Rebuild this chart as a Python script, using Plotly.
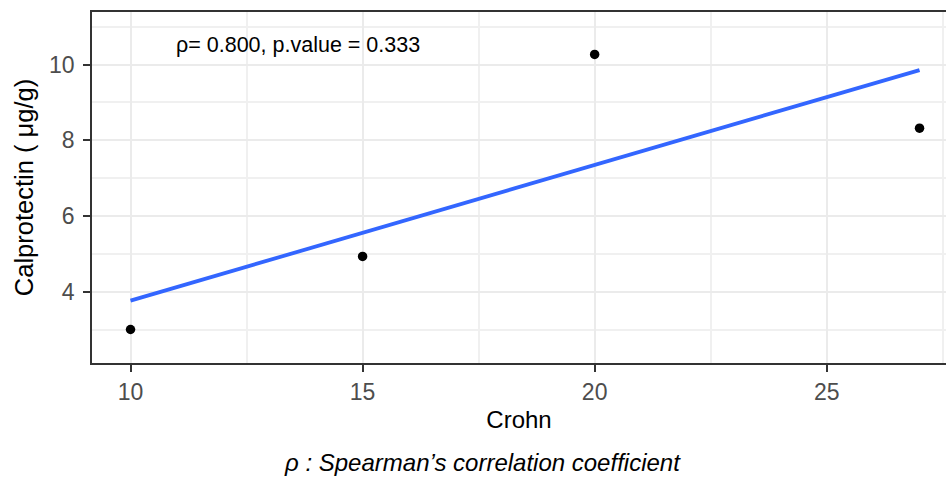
import numpy as np
import plotly.graph_objects as go

# Data
crohn = [10, 15, 20, 27]
calprotectin = [3.00, 4.93, 10.27, 8.32]
stat_label = "ρ= 0.800, p.value = 0.333"
caption = "ρ : Spearman’s correlation coefficient"
x_title = "Crohn"
y_title = "Calprotectin ( μg/g)"

# Linear fit (geom_smooth method = lm)
slope, intercept = np.polyfit(crohn, calprotectin, 1)
fit_x = np.array([min(crohn), max(crohn)])
fit_y = slope * fit_x + intercept

FONT = "Arial, Liberation Sans, sans-serif"

fig = go.Figure()
fig.add_trace(go.Scatter(x=fit_x, y=fit_y, mode="lines",
                         line=dict(color="#3366FF", width=3.8),
                         showlegend=False, hoverinfo="skip"))
fig.add_trace(go.Scatter(x=crohn, y=calprotectin, mode="markers",
                         marker=dict(color="black", size=9.5),
                         showlegend=False))

fig.add_annotation(x=13.6, y=10.53, xref="x", yref="y", text=stat_label,
                   showarrow=False, font=dict(family=FONT, size=21.5, color="black"),
                   xanchor="center", yanchor="middle")
fig.add_annotation(x=0.4577, y=-0.284, xref="paper", yref="paper", text="<i>" + caption + "</i>",
                   showarrow=False, font=dict(family=FONT, size=24, color="black"),
                   xanchor="center", yanchor="middle")

grid_major = "#EBEBEB"
grid_minor = "#F0F0F0"

fig.update_layout(
    width=946, height=477,
    margin=dict(l=92.3, r=0, t=12, b=113.7, autoexpand=False),
    paper_bgcolor="white", plot_bgcolor="white",
    font=dict(family=FONT),
    xaxis=dict(
        range=[9.17, 27.57], tickvals=[10, 15, 20, 25],
        showgrid=True, gridcolor=grid_major, gridwidth=2.2,
        minor=dict(tickvals=[12.5, 17.5, 22.5, 27.5], showgrid=True, gridcolor=grid_minor, gridwidth=1.5, ticks=""),
        showline=True, linecolor="#333333", linewidth=1.8, mirror=True,
        ticks="outside", ticklen=7, tickwidth=2, tickcolor="#333333",
        tickfont=dict(family=FONT, size=23, color="#4D4D4D"),
        zeroline=False,
        title=dict(text=x_title, font=dict(family=FONT, size=24, color="black"), standoff=8),
        automargin=False,
    ),
    yaxis=dict(
        range=[2.115, 11.39], tickvals=[4, 6, 8, 10],
        showgrid=True, gridcolor=grid_major, gridwidth=2.2,
        minor=dict(tickvals=[3, 5, 7, 9, 11], showgrid=True, gridcolor=grid_minor, gridwidth=1.5, ticks=""),
        showline=True, linecolor="#333333", linewidth=1.8, mirror=False,
        ticks="outside", ticklen=7, tickwidth=2, tickcolor="#333333",
        tickfont=dict(family=FONT, size=23, color="#4D4D4D"),
        ticklabelstandoff=4,
        zeroline=False,
        title=dict(text=y_title, font=dict(family=FONT, size=25.5, color="black"), standoff=8),
        automargin=False,
    ),
)

fig.write_html("out.html")
